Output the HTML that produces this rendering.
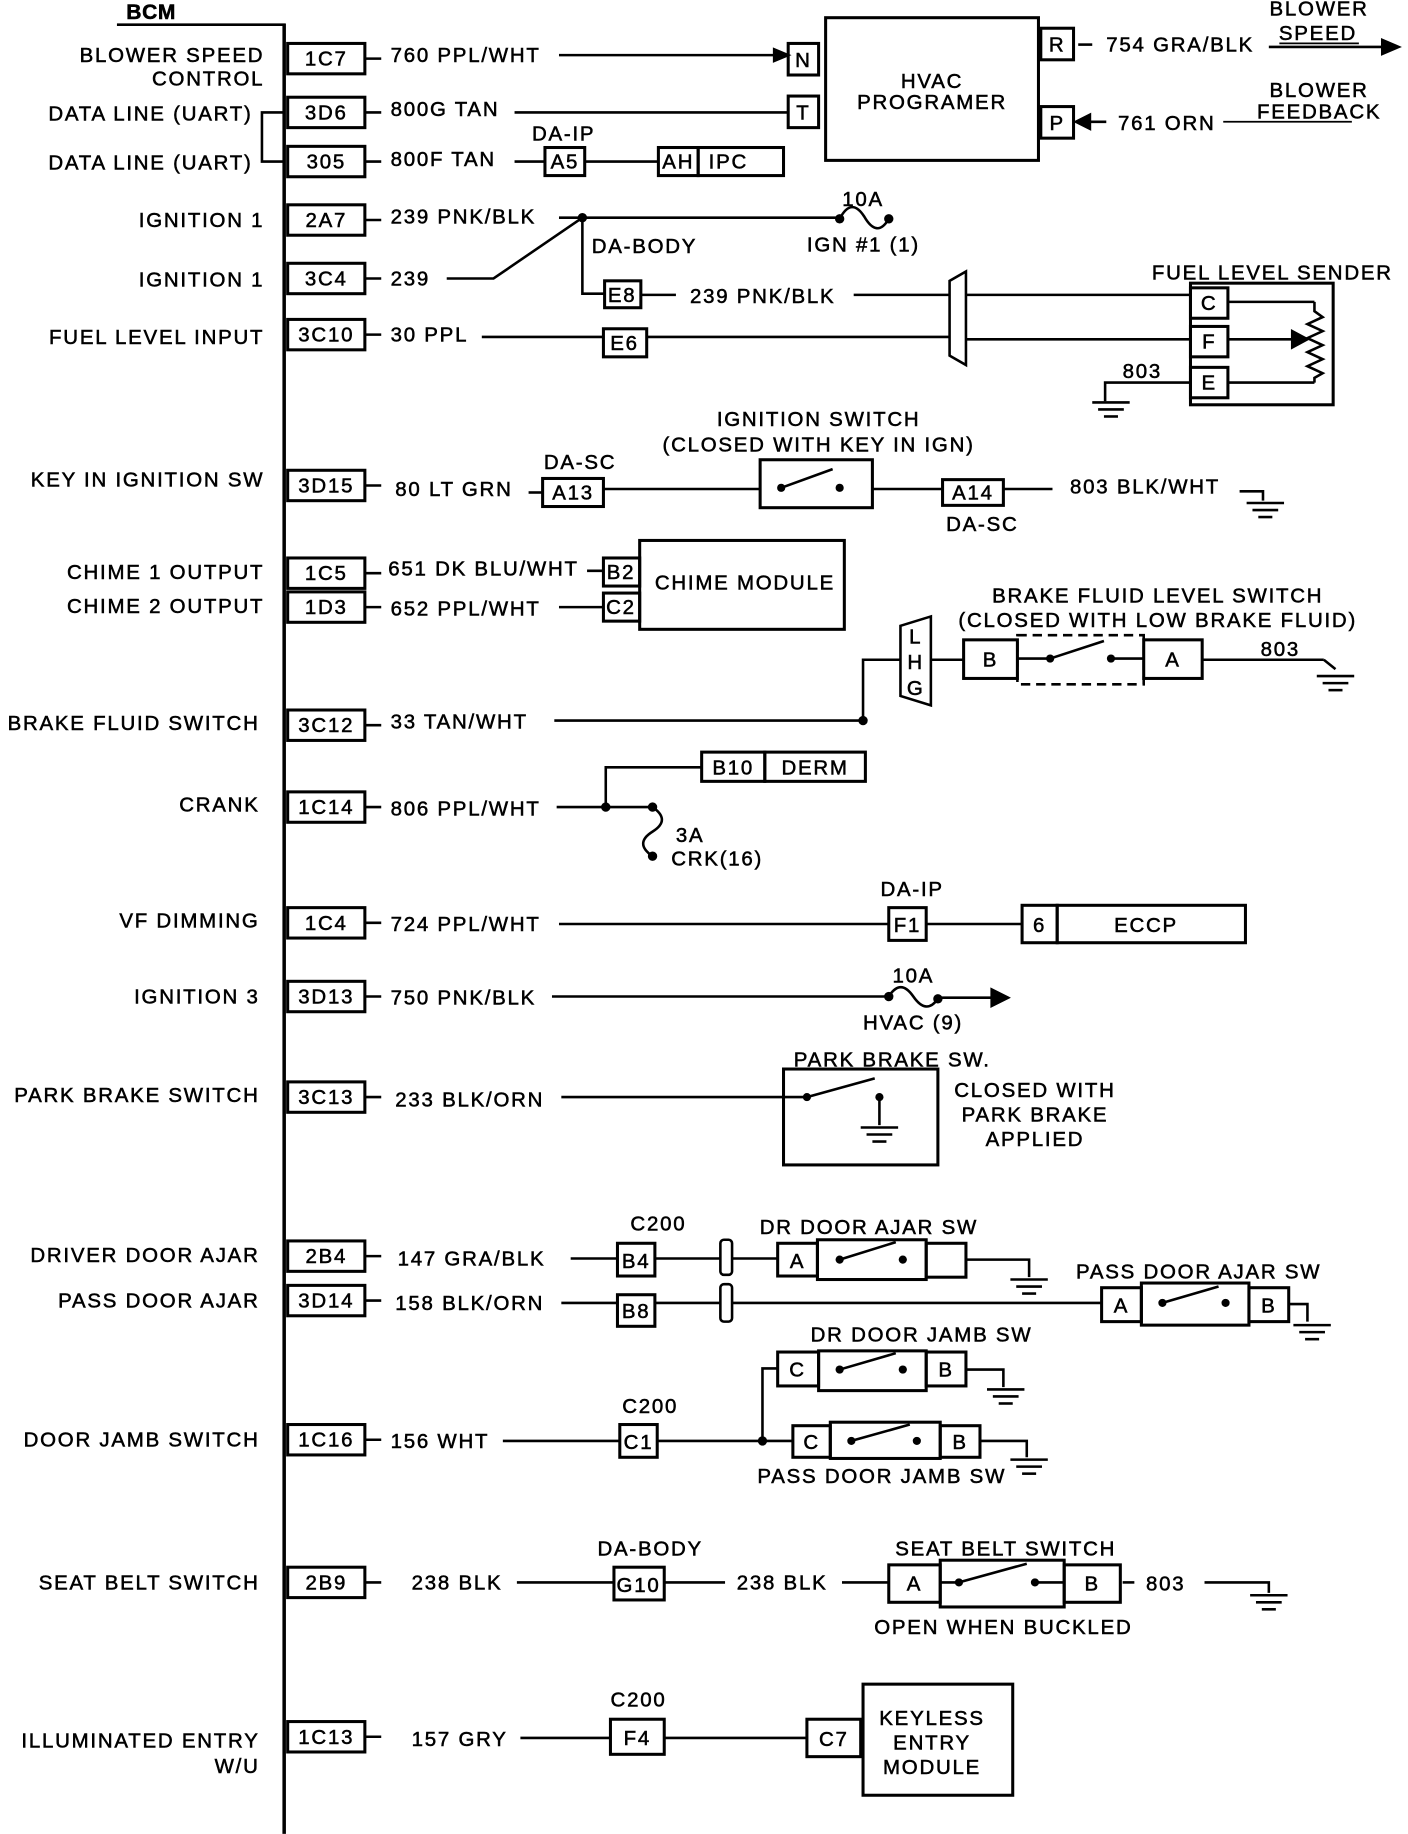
<!DOCTYPE html>
<html><head><meta charset="utf-8"><style>
html,body{margin:0;padding:0;background:#fff}
svg{display:block}
text{font-family:"Liberation Sans",sans-serif;font-size:17.5px;fill:#000;stroke:#000;stroke-width:0.45;letter-spacing:1.5px}
.r{text-anchor:end}.c{text-anchor:middle}
line,polyline,path,rect,polygon{stroke:#000;stroke-width:2.2;fill:none}
rect.b{stroke-width:2.6}
</style></head><body>
<svg width="1408" height="1834" viewBox="0 0 1204 1568" xmlns="http://www.w3.org/2000/svg">
<defs>
<g id="g"><line x1="-16" y1="0" x2="16" y2="0"/><line x1="-11" y1="6" x2="11" y2="6"/><line x1="-6" y1="12" x2="6" y2="12"/></g>
</defs>
<text x="108" y="16" style="font-weight:bold;font-size:18px;letter-spacing:0.5px">BCM</text>
<line x1="100" y1="21" x2="244" y2="21"/>
<line x1="243" y1="20" x2="243" y2="1568" style="stroke-width:3"/>

<g>
<rect class="b" x="246" y="37" width="66" height="26"/><text class="c" x="279" y="56">1C7</text>
<rect class="b" x="246" y="83" width="66" height="26"/><text class="c" x="279" y="102">3D6</text>
<rect class="b" x="246" y="125" width="66" height="26"/><text class="c" x="279" y="144">305</text>
<rect class="b" x="246" y="175" width="66" height="26"/><text class="c" x="279" y="194">2A7</text>
<rect class="b" x="246" y="225" width="66" height="26"/><text class="c" x="279" y="244">3C4</text>
<rect class="b" x="246" y="273" width="66" height="26"/><text class="c" x="279" y="292">3C10</text>
<rect class="b" x="246" y="402" width="66" height="26"/><text class="c" x="279" y="421">3D15</text>
<rect class="b" x="246" y="477" width="66" height="26"/><text class="c" x="279" y="496">1C5</text>
<rect class="b" x="246" y="506" width="66" height="26"/><text class="c" x="279" y="525">1D3</text>
<rect class="b" x="246" y="607" width="66" height="26"/><text class="c" x="279" y="626">3C12</text>
<rect class="b" x="246" y="677" width="66" height="26"/><text class="c" x="279" y="696">1C14</text>
<rect class="b" x="246" y="776" width="66" height="26"/><text class="c" x="279" y="795">1C4</text>
<rect class="b" x="246" y="839" width="66" height="26"/><text class="c" x="279" y="858">3D13</text>
<rect class="b" x="246" y="925" width="66" height="26"/><text class="c" x="279" y="944">3C13</text>
<rect class="b" x="246" y="1061" width="66" height="26"/><text class="c" x="279" y="1080">2B4</text>
<rect class="b" x="246" y="1099" width="66" height="26"/><text class="c" x="279" y="1118">3D14</text>
<rect class="b" x="246" y="1218" width="66" height="26"/><text class="c" x="279" y="1237">1C16</text>
<rect class="b" x="246" y="1340" width="66" height="26"/><text class="c" x="279" y="1359">2B9</text>
<rect class="b" x="246" y="1472" width="66" height="26"/><text class="c" x="279" y="1491">1C13</text>
</g>
<g>
<line x1="312" y1="50" x2="326" y2="50"/><line x1="312" y1="96" x2="326" y2="96"/><line x1="312" y1="138" x2="326" y2="138"/>
<line x1="312" y1="188" x2="326" y2="188"/><line x1="312" y1="238" x2="326" y2="238"/><line x1="312" y1="286" x2="326" y2="286"/>
<line x1="312" y1="415" x2="326" y2="415"/><line x1="312" y1="490" x2="326" y2="490"/><line x1="312" y1="519" x2="326" y2="519"/>
<line x1="312" y1="620" x2="326" y2="620"/><line x1="312" y1="690" x2="326" y2="690"/><line x1="312" y1="789" x2="326" y2="789"/>
<line x1="312" y1="852" x2="326" y2="852"/><line x1="312" y1="938" x2="326" y2="938"/><line x1="312" y1="1074" x2="326" y2="1074"/>
<line x1="312" y1="1112" x2="326" y2="1112"/><line x1="312" y1="1231" x2="326" y2="1231"/><line x1="312" y1="1353" x2="326" y2="1353"/>
<line x1="312" y1="1485" x2="326" y2="1485"/>
</g>

<text class="r" x="226" y="53">BLOWER SPEED</text><text class="r" x="226" y="73">CONTROL</text>
<text class="r" x="216" y="103">DATA LINE (UART)</text><text class="r" x="216" y="145">DATA LINE (UART)</text>
<polyline points="243,96 224,96 224,138 243,138"/>
<text class="r" x="226" y="194">IGNITION 1</text><text class="r" x="226" y="245">IGNITION 1</text>
<text class="r" x="226" y="294">FUEL LEVEL INPUT</text>
<text class="r" x="226" y="416">KEY IN IGNITION SW</text>
<text class="r" x="226" y="495">CHIME 1 OUTPUT</text><text class="r" x="226" y="524">CHIME 2 OUTPUT</text>
<text class="r" x="222" y="624">BRAKE FLUID SWITCH</text>
<text class="r" x="222" y="694">CRANK</text>
<text class="r" x="222" y="793">VF DIMMING</text>
<text class="r" x="222" y="858">IGNITION 3</text>
<text class="r" x="222" y="942">PARK BRAKE SWITCH</text>
<text class="r" x="222" y="1079">DRIVER DOOR AJAR</text><text class="r" x="222" y="1118">PASS DOOR AJAR</text>
<text class="r" x="222" y="1237">DOOR JAMB SWITCH</text>
<text class="r" x="222" y="1359">SEAT BELT SWITCH</text>
<text class="r" x="222" y="1494">ILLUMINATED ENTRY</text><text class="r" x="222" y="1516">W/U</text>

<text x="334" y="53">760 PPL/WHT</text>
<line x1="478" y1="47" x2="664" y2="47"/><polygon points="674,47 662,42 662,52" style="fill:#000"/>
<rect class="b" x="674" y="37" width="26" height="27"/><text class="c" x="687" y="57">N</text>
<text x="334" y="99">800G TAN</text><line x1="440" y1="96" x2="674" y2="96"/>
<rect class="b" x="674" y="82" width="26" height="27"/><text class="c" x="687" y="102">T</text>
<rect class="b" x="706" y="15" width="182" height="122"/>
<text class="c" x="797" y="75">HVAC</text><text class="c" x="797" y="93">PROGRAMER</text>
<rect class="b" x="890" y="24" width="28" height="27"/><text class="c" x="904" y="44">R</text>
<rect class="b" x="890" y="91" width="28" height="27"/><text class="c" x="904" y="111">P</text>
<line x1="922" y1="38" x2="934" y2="38"/><text x="946" y="44">754 GRA/BLK</text>
<line x1="1085" y1="40" x2="1182" y2="40"/><polygon points="1196,40 1182,34 1182,46" style="fill:#000"/>
<text class="c" x="1128" y="13">BLOWER</text><text class="c" x="1127" y="34">SPEED</text>
<line x1="1094" y1="37" x2="1162" y2="37" style="stroke-width:1.5"/>
<polygon points="920,104 932,98 932,110" style="fill:#000"/><line x1="930" y1="104" x2="946" y2="104"/>
<text x="956" y="111">761 ORN</text>
<text class="c" x="1128" y="83">BLOWER</text><text class="c" x="1128" y="101">FEEDBACK</text>
<line x1="1046" y1="104" x2="1156" y2="104" style="stroke-width:1.5"/>

<text x="334" y="142">800F TAN</text><line x1="440" y1="138" x2="466" y2="138"/>
<text class="c" x="482" y="120">DA-IP</text>
<rect class="b" x="466" y="126" width="34" height="24"/><text class="c" x="483" y="144">A5</text>
<line x1="500" y1="138" x2="563" y2="138"/>
<rect class="b" x="563" y="126" width="34" height="24"/><text class="c" x="580" y="144">AH</text>
<rect class="b" x="597" y="126" width="73" height="24"/><text x="606" y="144">IPC</text>

<text x="334" y="191">239 PNK/BLK</text>
<line x1="478" y1="186" x2="718" y2="186"/>
<circle cx="498" cy="186" r="4"/><circle cx="718" cy="187" r="4"/><circle cx="760" cy="187" r="4"/>
<path d="M718,187 Q728,168 739,185 Q750,204 760,187"/>
<text class="c" x="738" y="176">10A</text><text x="690" y="215">IGN #1 (1)</text>
<text x="506" y="216">DA-BODY</text>
<text x="334" y="244">239</text>
<polyline points="382,238 422,238 498,186"/>
<polyline points="498,186 498,251 517,251"/>
<rect class="b" x="517" y="240" width="31" height="23"/><text class="c" x="532" y="258">E8</text>
<line x1="548" y1="252" x2="578" y2="252"/><text x="590" y="259">239 PNK/BLK</text>
<line x1="730" y1="252" x2="812" y2="252"/>
<text x="334" y="292">30 PPL</text><line x1="412" y1="288" x2="516" y2="288"/>
<rect class="b" x="516" y="281" width="37" height="24"/><text class="c" x="534" y="299">E6</text>
<line x1="553" y1="288" x2="812" y2="288"/>
<path d="M812,240 L826,232 L826,312 L812,304 Z"/>
<line x1="826" y1="252" x2="1018" y2="252"/><line x1="826" y1="290" x2="1018" y2="290"/>
<text class="c" x="1088" y="239">FUEL LEVEL SENDER</text>
<rect class="b" x="1018" y="242" width="122" height="104"/>
<rect class="b" x="1018" y="246" width="32" height="26"/><text class="c" x="1034" y="265">C</text>
<rect class="b" x="1018" y="279" width="32" height="26"/><text class="c" x="1034" y="298">F</text>
<rect class="b" x="1018" y="314" width="32" height="26"/><text class="c" x="1034" y="333">E</text>
<line x1="1050" y1="258" x2="1124" y2="258"/><line x1="1050" y1="327" x2="1124" y2="327"/>
<polyline points="1124,258 1124,266 1131,271 1118,277 1131,283 1118,289 1131,295 1118,301 1131,307 1118,313 1131,319 1124,323 1124,327"/>
<line x1="1050" y1="290" x2="1106" y2="290"/><polygon points="1118,290 1105,283 1105,297" style="fill:#000"/>
<text x="960" y="323">803</text>
<polyline points="1018,327 945,327 945,343"/><use href="#g" x="950" y="344"/>

<text x="338" y="424">80 LT GRN</text><line x1="452" y1="421" x2="464" y2="421"/>
<text class="c" x="496" y="401">DA-SC</text>
<rect class="b" x="464" y="409" width="52" height="24"/><text class="c" x="490" y="427">A13</text>
<line x1="516" y1="418" x2="650" y2="418"/>
<text class="c" x="700" y="364">IGNITION SWITCH</text><text class="c" x="700" y="386">(CLOSED WITH KEY IN IGN)</text>
<rect class="b" x="650" y="393" width="96" height="41"/>
<circle cx="668" cy="417" r="3.5" style="fill:#000"/><circle cx="718" cy="417" r="3.5" style="fill:#000"/>
<line x1="668" y1="417" x2="712" y2="401"/>
<line x1="746" y1="418" x2="806" y2="418"/>
<rect class="b" x="806" y="410" width="52" height="22"/><text class="c" x="832" y="427">A14</text>
<text class="c" x="840" y="454">DA-SC</text>
<line x1="858" y1="418" x2="900" y2="418"/><text x="915" y="422">803 BLK/WHT</text>
<polyline points="1060,420 1080,420 1080,428"/><use href="#g" x="1082" y="430"/>

<text x="332" y="492">651 DK BLU/WHT</text><line x1="502" y1="488" x2="516" y2="488"/>
<text x="334" y="526">652 PPL/WHT</text><line x1="478" y1="519" x2="516" y2="519"/>
<rect class="b" x="516" y="477" width="31" height="24"/><text class="c" x="531" y="495">B2</text>
<rect class="b" x="516" y="507" width="31" height="24"/><text class="c" x="531" y="525">C2</text>
<rect class="b" x="547" y="462" width="175" height="76"/><text class="c" x="637" y="504">CHIME MODULE</text>

<text x="334" y="623">33 TAN/WHT</text>
<polyline points="474,616 738,616 738,564 770,564"/><circle cx="738" cy="616" r="4" style="fill:#000"/>
<path d="M770,535 L796,527 L796,603 L770,595 Z"/>
<text class="c" x="783" y="550">L</text><text class="c" x="783" y="572">H</text><text class="c" x="783" y="594">G</text>
<line x1="796" y1="564" x2="824" y2="564"/>
<rect class="b" x="824" y="547" width="46" height="33"/><text class="c" x="847" y="570">B</text>
<rect x="870" y="543" width="108" height="42" style="stroke-dasharray:8,5"/>
<circle cx="898" cy="563" r="3.5" style="fill:#000"/><circle cx="950" cy="563" r="3.5" style="fill:#000"/>
<line x1="898" y1="563" x2="870" y2="563"/><line x1="950" y1="563" x2="978" y2="563"/>
<line x1="898" y1="563" x2="944" y2="548"/>
<rect class="b" x="978" y="547" width="50" height="33"/><text class="c" x="1003" y="570">A</text>
<line x1="1028" y1="564" x2="1132" y2="564"/><line x1="1132" y1="564" x2="1142" y2="572"/>
<text x="1078" y="561">803</text><use href="#g" x="1142" y="578"/>
<text class="c" x="990" y="515">BRAKE FLUID LEVEL SWITCH</text><text class="c" x="990" y="536">(CLOSED WITH LOW BRAKE FLUID)</text>

<text x="334" y="697">806 PPL/WHT</text>
<line x1="476" y1="690" x2="558" y2="690"/><circle cx="518" cy="690" r="4" style="fill:#000"/><circle cx="558" cy="690" r="4" style="fill:#000"/>
<polyline points="518,690 518,656 600,656"/>
<rect class="b" x="600" y="643" width="54" height="25"/><text class="c" x="627" y="662">B10</text>
<rect class="b" x="654" y="643" width="86" height="25"/><text class="c" x="697" y="662">DERM</text>
<path d="M558,690 Q574,701 558,711 Q542,721 558,732"/><circle cx="558" cy="732" r="4" style="fill:#000"/>
<text x="578" y="720">3A</text><text x="574" y="740">CRK(16)</text>

<text x="334" y="796">724 PPL/WHT</text><line x1="478" y1="790" x2="760" y2="790"/>
<text class="c" x="780" y="766">DA-IP</text>
<rect class="b" x="760" y="776" width="32" height="28"/><text class="c" x="776" y="797">F1</text>
<line x1="792" y1="790" x2="874" y2="790"/>
<rect class="b" x="874" y="774" width="30" height="32"/><text class="c" x="889" y="797">6</text>
<rect class="b" x="904" y="774" width="161" height="32"/><text class="c" x="980" y="797">ECCP</text>

<text x="334" y="859">750 PNK/BLK</text><line x1="472" y1="852" x2="760" y2="852"/>
<circle cx="760" cy="852" r="4" style="fill:#000"/><circle cx="802" cy="854" r="4" style="fill:#000"/>
<path d="M760,852 Q770,836 781,852 Q792,868 802,854"/>
<line x1="802" y1="853" x2="848" y2="853"/><polygon points="862,853 848,846 848,860" style="fill:#000"/>
<text class="c" x="781" y="840">10A</text><text x="738" y="880">HVAC (9)</text>

<text x="338" y="946">233 BLK/ORN</text><line x1="480" y1="938" x2="690" y2="938"/>
<text class="c" x="763" y="912">PARK BRAKE SW.</text>
<rect class="b" x="670" y="914" width="132" height="82"/>
<circle cx="690" cy="938" r="3.5" style="fill:#000"/><circle cx="752" cy="938" r="3.5" style="fill:#000"/>
<line x1="690" y1="938" x2="748" y2="922"/>
<line x1="752" y1="938" x2="752" y2="962"/><use href="#g" x="752" y="964"/>
<text class="c" x="885" y="938">CLOSED WITH</text><text class="c" x="885" y="959">PARK BRAKE</text><text class="c" x="885" y="980">APPLIED</text>

<text x="340" y="1082">147 GRA/BLK</text><line x1="488" y1="1076" x2="528" y2="1076"/>
<text class="c" x="563" y="1052">C200</text>
<rect class="b" x="528" y="1063" width="32" height="28"/><text class="c" x="544" y="1084">B4</text>
<line x1="560" y1="1076" x2="616" y2="1076"/>
<rect x="616" y="1060" width="10" height="30" rx="3"/>
<line x1="626" y1="1076" x2="665" y2="1076"/>
<text class="c" x="743" y="1055">DR DOOR AJAR SW</text>
<rect class="b" x="665" y="1063" width="34" height="28"/><text class="c" x="682" y="1084">A</text>
<rect class="b" x="699" y="1060" width="93" height="34"/>
<circle cx="718" cy="1077" r="3.5" style="fill:#000"/><circle cx="772" cy="1077" r="3.5" style="fill:#000"/>
<line x1="718" y1="1077" x2="766" y2="1062"/>
<rect class="b" x="792" y="1063" width="34" height="29"/>
<polyline points="826,1077 880,1077 880,1092"/><use href="#g" x="880" y="1094"/>

<text x="338" y="1120">158 BLK/ORN</text><line x1="480" y1="1114" x2="528" y2="1114"/>
<rect class="b" x="528" y="1107" width="32" height="27"/><text class="c" x="544" y="1127">B8</text>
<line x1="560" y1="1114" x2="616" y2="1114"/>
<rect x="616" y="1098" width="10" height="32" rx="3"/>
<line x1="626" y1="1114" x2="942" y2="1114"/>
<text class="c" x="1025" y="1093">PASS DOOR AJAR SW</text>
<rect class="b" x="942" y="1101" width="34" height="29"/><text class="c" x="959" y="1122">A</text>
<rect class="b" x="976" y="1097" width="92" height="36"/>
<circle cx="994" cy="1114" r="3.5" style="fill:#000"/><circle cx="1048" cy="1114" r="3.5" style="fill:#000"/>
<line x1="994" y1="1114" x2="1042" y2="1100"/>
<rect class="b" x="1068" y="1101" width="34" height="29"/><text class="c" x="1085" y="1122">B</text>
<polyline points="1102,1115 1118,1115 1118,1130"/><use href="#g" x="1122" y="1133"/>

<text x="334" y="1238">156 WHT</text><line x1="430" y1="1232" x2="530" y2="1232"/>
<text class="c" x="556" y="1208">C200</text>
<rect class="b" x="530" y="1218" width="32" height="28"/><text class="c" x="546" y="1239">C1</text>
<line x1="562" y1="1232" x2="678" y2="1232"/><circle cx="652" cy="1232" r="4" style="fill:#000"/>
<polyline points="652,1232 652,1170 665,1170"/>
<text class="c" x="788" y="1147">DR DOOR JAMB SW</text>
<rect class="b" x="665" y="1156" width="35" height="29"/><text class="c" x="682" y="1177">C</text>
<rect class="b" x="700" y="1155" width="92" height="34"/>
<circle cx="718" cy="1171" r="3.5" style="fill:#000"/><circle cx="772" cy="1171" r="3.5" style="fill:#000"/>
<line x1="718" y1="1171" x2="766" y2="1157"/>
<rect class="b" x="792" y="1156" width="34" height="29"/><text class="c" x="809" y="1177">B</text>
<polyline points="826,1171 858,1171 858,1186"/><use href="#g" x="860" y="1188"/>
<rect class="b" x="678" y="1219" width="32" height="27"/><text class="c" x="694" y="1239">C</text>
<rect class="b" x="710" y="1216" width="94" height="31"/>
<circle cx="728" cy="1232" r="3.5" style="fill:#000"/><circle cx="784" cy="1232" r="3.5" style="fill:#000"/>
<line x1="728" y1="1232" x2="778" y2="1218"/>
<rect class="b" x="804" y="1219" width="34" height="27"/><text class="c" x="821" y="1239">B</text>
<polyline points="838,1232 878,1232 878,1246"/><use href="#g" x="880" y="1248"/>
<text class="c" x="754" y="1268">PASS DOOR JAMB SW</text>

<text x="352" y="1359">238 BLK</text><line x1="442" y1="1353" x2="525" y2="1353"/>
<text class="c" x="556" y="1330">DA-BODY</text>
<rect class="b" x="525" y="1340" width="43" height="28"/><text class="c" x="546" y="1361">G10</text>
<line x1="568" y1="1353" x2="620" y2="1353"/><text x="630" y="1359">238 BLK</text>
<line x1="720" y1="1353" x2="760" y2="1353"/>
<text class="c" x="860" y="1330">SEAT BELT SWITCH</text>
<rect class="b" x="760" y="1338" width="44" height="32"/><text class="c" x="782" y="1360">A</text>
<rect class="b" x="804" y="1334" width="106" height="40"/>
<circle cx="820" cy="1353" r="3.5" style="fill:#000"/><circle cx="885" cy="1353" r="3.5" style="fill:#000"/>
<line x1="804" y1="1353" x2="820" y2="1353"/><line x1="885" y1="1353" x2="910" y2="1353"/>
<line x1="820" y1="1353" x2="878" y2="1337"/>
<rect class="b" x="910" y="1338" width="48" height="32"/><text class="c" x="934" y="1360">B</text>
<line x1="960" y1="1353" x2="970" y2="1353"/><text x="980" y="1360">803</text>
<polyline points="1030,1353 1085,1353 1085,1362"/><use href="#g" x="1085" y="1364"/>
<text class="c" x="858" y="1397">OPEN WHEN BUCKLED</text>

<text x="352" y="1493">157 GRY</text><line x1="445" y1="1486" x2="522" y2="1486"/>
<text class="c" x="546" y="1459">C200</text>
<rect class="b" x="522" y="1470" width="46" height="30"/><text class="c" x="545" y="1492">F4</text>
<line x1="568" y1="1486" x2="690" y2="1486"/>
<rect class="b" x="690" y="1470" width="46" height="32"/><text class="c" x="713" y="1493">C7</text>
<rect class="b" x="738" y="1440" width="128" height="95"/>
<text class="c" x="797" y="1475">KEYLESS</text><text class="c" x="797" y="1496">ENTRY</text><text class="c" x="797" y="1517">MODULE</text>
</svg>
</body></html>
